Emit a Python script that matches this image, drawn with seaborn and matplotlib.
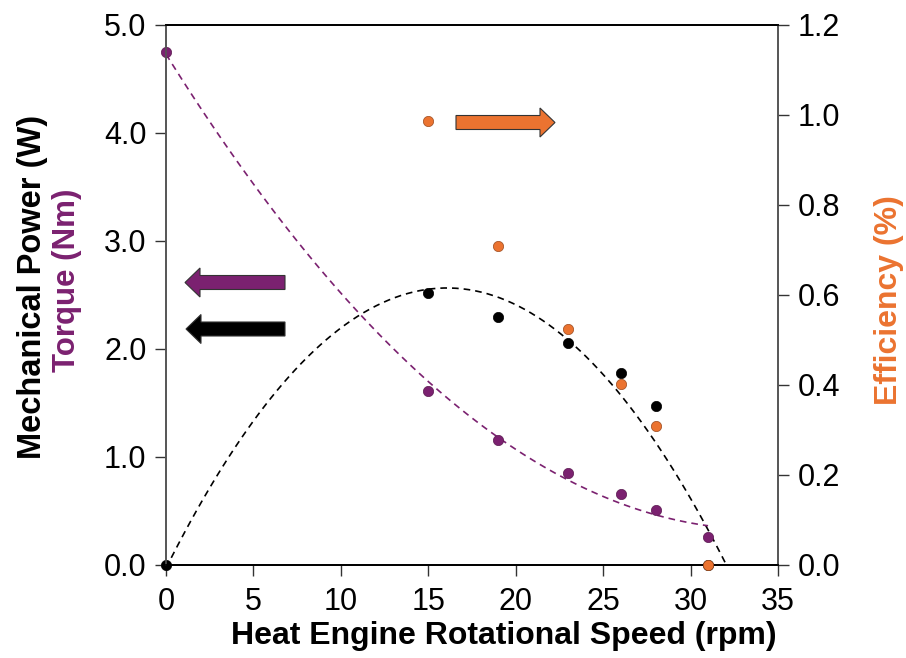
import matplotlib
matplotlib.use("Agg")
import matplotlib.pyplot as plt
import seaborn as sns
import numpy as np
import pandas as pd
from matplotlib.patches import FancyArrow

# ---- data ----
speed_power = [0, 15, 19, 23, 26, 28, 31]
power = [0.0, 2.52, 2.296, 2.055, 1.78, 1.47, 0.0]

speed_torque = [0, 15, 19, 23, 26, 28, 31]
torque = [4.75, 1.61, 1.157, 0.85, 0.657, 0.51, 0.26]

speed_eff = [15, 19, 23, 26, 28, 31]
efficiency = [0.987, 0.709, 0.524, 0.402, 0.309, 0.0]

x_ticks = [0, 5, 10, 15, 20, 25, 30, 35]
left_ticks = [0.0, 1.0, 2.0, 3.0, 4.0, 5.0]
right_ticks = [0.0, 0.2, 0.4, 0.6, 0.8, 1.0, 1.2]

PURPLE = "#7B2170"
ORANGE = "#EB7330"

sns.set_theme(style="white")
plt.rcParams["font.family"] = ["Liberation Sans", "DejaVu Sans"]

df_p = pd.DataFrame({"speed": speed_power, "power": power})
df_t = pd.DataFrame({"speed": speed_torque, "torque": torque})
df_e = pd.DataFrame({"speed": speed_eff, "eff": efficiency})

fig = plt.figure(figsize=(9.06, 6.58), dpi=100)
ax = fig.add_axes([166/906, 1-565/658, 612/906, 540/658])
ax.set_xlim(0, 35)
ax.set_ylim(0, 5.0)

# fits
sns.regplot(data=df_p, x="speed", y="power", order=2, ci=None, scatter=False,
            truncate=False, ax=ax,
            line_kws=dict(color="black", lw=1.2, ls=(0, (4, 3))))
sns.regplot(data=df_t, x="speed", y="torque", order=2, ci=None, scatter=False,
            truncate=True, ax=ax,
            line_kws=dict(color=PURPLE, lw=1.2, ls=(0, (4, 3))))

sns.scatterplot(data=df_p, x="speed", y="power", color="black", s=55,
                edgecolor="black", linewidth=0.5, ax=ax, zorder=3, clip_on=False)
sns.scatterplot(data=df_t, x="speed", y="torque", color=PURPLE, s=55,
                edgecolor="#5a1a50", linewidth=0.5, ax=ax, zorder=3, clip_on=False)

ax.set_xlim(0, 35)
ax.set_ylim(0, 5.0)

ax2 = ax.twinx()
sns.scatterplot(data=df_e, x="speed", y="eff", color=ORANGE, s=55,
                edgecolor="#9a4a1e", linewidth=0.5, ax=ax2, zorder=3, clip_on=False)
ax2.set_ylim(0, 1.2)
ax2.set_xlim(0, 35)

# ticks
ax.set_xticks(x_ticks)
ax.set_xticklabels([str(v) for v in x_ticks])
ax.set_yticks(left_ticks)
ax.set_yticklabels([f"{v:.1f}" for v in left_ticks])
ax2.set_yticks(right_ticks)
ax2.set_yticklabels([f"{v:.1f}" for v in right_ticks])

for a in (ax, ax2):
    a.tick_params(axis="both", which="major", direction="out", length=8,
                  width=1.0, color="#333333", labelsize=22, pad=6,
                  labelcolor="black")
ax.tick_params(axis="x", bottom=True, pad=8)
ax.tick_params(axis="y", left=True)
ax2.tick_params(axis="y", right=True)

ax.set_xlabel("Heat Engine Rotational Speed (rpm)", fontsize=23,
              fontweight="bold", color="black")
ax.xaxis.set_label_coords((504-166)/612, -(621-565)/540)
ax.set_ylabel("")
ax2.set_ylabel("")

for a in (ax, ax2):
    for side in ("top", "bottom"):
        a.spines[side].set_color("black")
        a.spines[side].set_linewidth(1.3)
    for side in ("left", "right"):
        a.spines[side].set_color("#555555")
        a.spines[side].set_linewidth(1.2)

# y labels
fig.text(33/906, 1-287/658, "Mechanical Power (W)", rotation=90,
         ha="center", va="center", fontsize=23.5, fontweight="bold", color="black")
fig.text(67/906, 1-280/658, "Torque (Nm)", rotation=90,
         ha="center", va="center", fontsize=22.5, fontweight="bold", color=PURPLE)
fig.text(889/906, 1-300/658, "Efficiency (%)", rotation=90,
         ha="center", va="center", fontsize=23, fontweight="bold", color=ORANGE)

# arrows (axes fraction)
def arrow(x0, x1, yc, color):
    ax.add_patch(FancyArrow(x0, yc, x1 - x0, 0, width=14/540,
                            head_width=29/540, head_length=15/612,
                            length_includes_head=True, transform=ax.transAxes,
                            facecolor=color, edgecolor="#333333", lw=0.8,
                            zorder=4, clip_on=False))

arrow((285-166)/612, (185-166)/612, (565-282.5)/540, PURPLE)
arrow((285-166)/612, (186-166)/612, (565-329)/540, "black")
arrow((456-166)/612, (555-166)/612, (565-122.5)/540, ORANGE)

fig.savefig("out.png", dpi=100, facecolor="white")
